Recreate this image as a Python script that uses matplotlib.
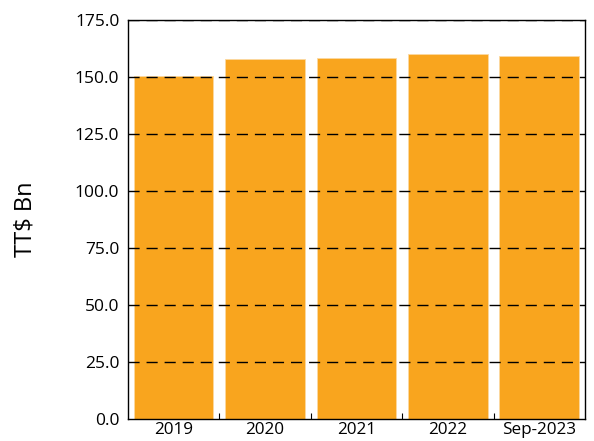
import numpy as np
import matplotlib.pyplot as plt

plt.rcParams['font.family'] = ['Open Sans', 'DejaVu Sans']

years = ['2019', '2020', '2021', '2022', 'Sep-2023']
values = [150.4, 157.9, 158.3, 160.2, 159.3]
yticks = np.arange(0, 176, 25)

fig = plt.figure(figsize=(5.94, 4.41), dpi=100)
ax = fig.add_axes([127.7 / 594, 22 / 441, (585 - 127.7) / 594, (419 - 20) / 441])

x = np.arange(len(years))
ax.bar(x, values, width=0.87, color='#F9A51E', edgecolor='#FBD9A0', linewidth=0.6, zorder=2)

ax.set_ylim(0, 175)
ax.set_xlim(-0.5, len(years) - 0.5)
ax.set_yticks(yticks)
ax.set_yticklabels([f'{v:.1f}' for v in yticks], fontsize=12.5)
ax.set_xticks(x)
ax.set_xticklabels(years, fontsize=12.3)
ax.tick_params(axis='x', length=0, pad=2)
ax.set_xticks(np.arange(0.5, len(years) - 1, 1), minor=True)
ax.tick_params(axis='x', which='minor', direction='in', length=4, width=0.8)
ax.tick_params(axis='y', length=0, pad=6)

# dashed reference lines drawn on top of the bars
for y in yticks[1:]:
    ax.axhline(y, color='black', lw=1, dashes=(8, 5), zorder=3)

for s in ax.spines.values():
    s.set_linewidth(1)
    s.set_color('black')

ax.set_ylabel('TT$ Bn', fontsize=17, labelpad=27)

fig.savefig('out.png', dpi=100)
